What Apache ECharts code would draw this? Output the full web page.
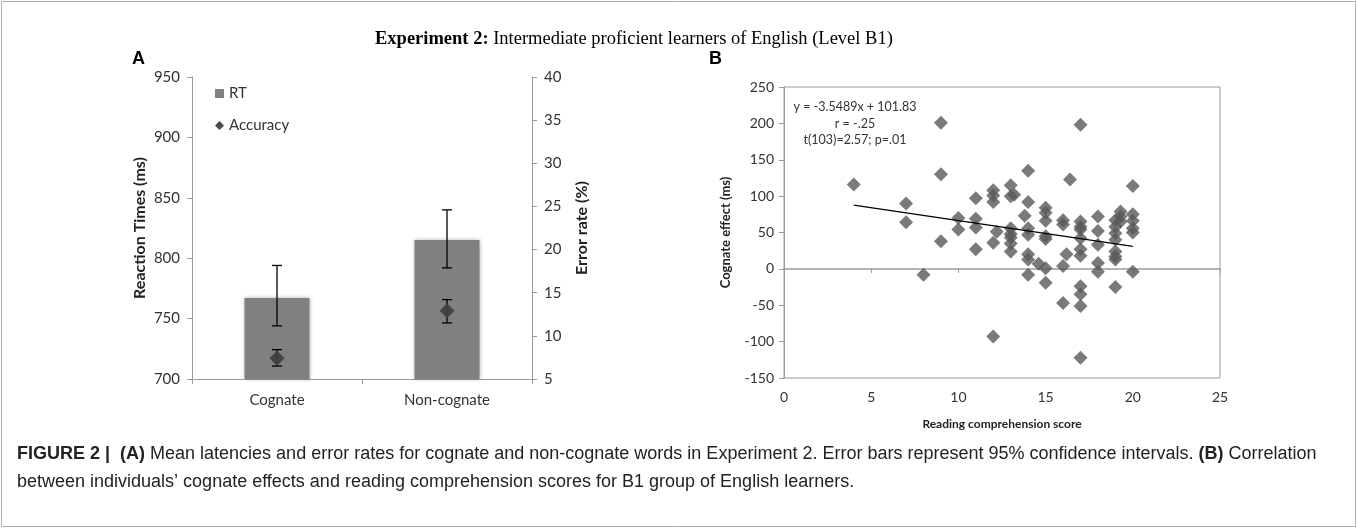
<!DOCTYPE html>
<html>
<head>
<meta charset="utf-8">
<script src="https://cdn.jsdelivr.net/npm/echarts@6/dist/echarts.min.js"></script>
<style>
  html, body { margin: 0; background: #fff; }
  #chart { width: 1358px; height: 529px; }
</style>
</head>
<body>
<div id="chart"></div>
<script>
// panel A: means and 95% CI ends
const conditions = ['Cognate', 'Non-cognate'];
const rtMean = [767, 815];
const rtLow = [744, 792];
const rtHigh = [794, 840];
const errMean = [7.4, 12.9];
const errLow = [6.5, 11.5];
const errHigh = [8.4, 14.2];

// panel B: one entry per participant
const scores = [4, 7, 7, 8, 9, 9, 9, 10, 10, 11, 11, 11, 11,
  12, 12, 12, 12.2, 12, 12, 13, 13.2, 13, 13, 13, 13, 13, 13,
  14, 14, 13.8, 14, 14, 14, 14, 14, 14.6, 15,
  15, 15, 15, 15, 15, 15, 16, 16, 16.2, 16, 16, 16.4,
  17, 17, 17, 17, 17, 17, 17, 17, 17, 17, 17,
  18, 18, 18, 18, 18, 19, 19, 19, 19, 19, 19, 19, 19, 19.3, 19.3, 19.3,
  20, 20, 20, 20, 20, 20];
const effects = [116, 90, 64, -8, 201, 130, 38, 70, 54, 97, 69, 57, 27,
  108, 101, 92, 51, 36, -93, 115, 102, 100, 56, 48, 43, 35, 24,
  135, 92, 73, 56, 47, 20, 13, -8, 7, 1,
  84, 77, 66, 45, 41, -19, 67, 61, 20, 4, -47, 123,
  198, 65, 58, 54, 42, 27, 18, -24, -35, -51, -122,
  72, 52, 33, 8, -4, 67, 58, 49, 40, 24, 17, 13, -25, 79, 72, 65,
  114, 75, 66, 56, 50, -4];
// fitted line end points
const fitX = [4, 20];
const fitY = [87.6, 30.9];

const labelFont = 'Lato, "Open Sans", sans-serif';
const captionFont = '"Liberation Sans", Arial, sans-serif';
const tickA = { color: '#333', fontFamily: labelFont, fontSize: 15 };
const tickB = { color: '#333', fontFamily: labelFont, fontSize: 14 };
const nameA = { color: '#222', fontFamily: labelFont, fontSize: 16, fontWeight: 'bold' };
const nameB = { color: '#222', fontFamily: labelFont, fontSize: 13, fontWeight: 'bold' };
const greyLine = { lineStyle: { color: '#9a9a9a', width: 1 } };

function errorBars(name, low, high, yIndex, cap) {
  return {
    name: name,
    type: 'custom',
    xAxisIndex: 0,
    yAxisIndex: yIndex,
    z: 4,
    data: low.map((l, i) => [i, l, high[i]]),
    renderItem: function (params, api) {
      const lo = api.coord([api.value(0), api.value(1)]);
      const hi = api.coord([api.value(0), api.value(2)]);
      const style = { stroke: '#000', lineWidth: 1.3 };
      return {
        type: 'group',
        children: [
          { type: 'line', shape: { x1: hi[0], y1: hi[1], x2: lo[0], y2: lo[1] }, style: style },
          { type: 'line', shape: { x1: hi[0] - cap, y1: hi[1], x2: hi[0] + cap, y2: hi[1] }, style: style },
          { type: 'line', shape: { x1: lo[0] - cap, y1: lo[1], x2: lo[0] + cap, y2: lo[1] }, style: style }
        ]
      };
    }
  };
}

const chart = echarts.init(document.getElementById('chart'), null, { renderer: 'canvas' });

const option = {
  animation: false,
  backgroundColor: '#fff',
  grid: [
    { left: 192, top: 77, width: 340, height: 302 },
    { left: 784, top: 87, width: 436, height: 291, show: true, borderColor: '#9a9a9a', borderWidth: 1 }
  ],
  legend: {
    left: 210, top: 81, orient: 'vertical', itemGap: 17,
    itemWidth: 9, itemHeight: 9,
    textStyle: { color: '#333', fontFamily: labelFont, fontSize: 15 },
    data: [{ name: 'RT', icon: 'rect' }, { name: 'Accuracy', icon: 'diamond' }]
  },
  xAxis: [
    {
      gridIndex: 0, type: 'category', data: conditions,
      axisLine: { onZero: false, lineStyle: { color: '#9a9a9a' } },
      axisTick: { show: true, length: 5, lineStyle: { color: '#9a9a9a' } },
      axisLabel: Object.assign({ margin: 14 }, tickA)
    },
    {
      gridIndex: 1, type: 'value', min: 0, max: 25, interval: 5, position: 'bottom',
      name: 'Reading comprehension score', nameLocation: 'middle', nameGap: 40,
      nameTextStyle: Object.assign({}, nameB, { fontSize: 12 }),
      axisLine: { show: false, onZero: false },
      axisTick: { show: false },
      splitLine: { show: false },
      axisLabel: Object.assign({ margin: 12 }, tickB)
    },
    {
      gridIndex: 1, type: 'value', min: 0, max: 25, interval: 5, position: 'bottom',
      axisLine: { show: true, onZero: true, lineStyle: { color: '#9a9a9a', width: 1.5 } },
      axisTick: { show: true, length: 4, lineStyle: { color: '#9a9a9a' } },
      axisLabel: { show: false },
      splitLine: { show: false }
    }
  ],
  yAxis: [
    {
      gridIndex: 0, type: 'value', min: 700, max: 950, interval: 50, position: 'left',
      name: 'Reaction Times (ms)', nameLocation: 'middle', nameGap: 44, nameRotate: 90, nameTextStyle: nameA,
      axisLine: Object.assign({ show: true }, greyLine),
      axisTick: Object.assign({ show: true, length: 5 }, greyLine),
      splitLine: { show: false },
      axisLabel: Object.assign({ margin: 12 }, tickA)
    },
    {
      gridIndex: 0, type: 'value', min: 5, max: 40, interval: 5, position: 'right',
      name: 'Error rate (%)', nameLocation: 'middle', nameGap: 42, nameRotate: 90, nameTextStyle: nameA,
      axisLine: Object.assign({ show: true }, greyLine),
      axisTick: Object.assign({ show: true, length: 5 }, greyLine),
      splitLine: { show: false },
      axisLabel: Object.assign({ margin: 12 }, tickA)
    },
    {
      gridIndex: 1, type: 'value', min: -150, max: 250, interval: 50,
      name: 'Cognate effect (ms)', nameLocation: 'middle', nameGap: 52, nameRotate: 90, nameTextStyle: nameB,
      axisLine: Object.assign({ show: true }, greyLine),
      axisTick: Object.assign({ show: true, length: 5 }, greyLine),
      splitLine: { show: false },
      axisLabel: Object.assign({ margin: 10 }, tickB)
    }
  ],
  series: [
    {
      name: 'RT', type: 'bar', xAxisIndex: 0, yAxisIndex: 0,
      barWidth: 65, data: rtMean,
      itemStyle: { color: '#808080', shadowColor: 'rgba(0,0,0,0.3)', shadowBlur: 4 }
    },
    errorBars('rtCI', rtLow, rtHigh, 0, 5),
    errorBars('errCI', errLow, errHigh, 1, 5),
    {
      name: 'Accuracy', type: 'scatter', xAxisIndex: 0, yAxisIndex: 1, z: 5,
      symbol: 'diamond', symbolSize: 15, data: errMean,
      itemStyle: { color: '#404040', opacity: 0.95 }
    },
    {
      name: 'effects', type: 'scatter', xAxisIndex: 1, yAxisIndex: 2,
      symbol: 'diamond', symbolSize: 14,
      data: scores.map((s, i) => [s, effects[i]]),
      itemStyle: { color: '#595959' }
    },
    {
      name: 'fit', type: 'line', xAxisIndex: 1, yAxisIndex: 2, z: 6,
      symbol: 'none', data: fitX.map((x, i) => [x, fitY[i]]),
      lineStyle: { color: '#000', width: 1.2 }
    }
  ],
  graphic: [
    {
      type: 'rect', shape: { x: 1.5, y: 1.5, width: 1354, height: 525 },
      style: { fill: 'none', stroke: '#b0b0b0', lineWidth: 1 }, silent: true
    },
    {
      type: 'text', left: 375, top: 30,
      style: {
        text: '{b|Experiment 2:} Intermediate proficient learners of English (Level B1)',
        font: '18.5px "Liberation Serif", serif', fill: '#000',
        rich: { b: { fontFamily: '"Liberation Serif", serif', fontSize: 18.5, fontWeight: 'bold' } }
      }
    },
    { type: 'text', left: 132, top: 50, style: { text: 'A', font: 'bold 18px "Liberation Sans", Arial, sans-serif', fill: '#000' } },
    { type: 'text', left: 709, top: 50, style: { text: 'B', font: 'bold 18px "Liberation Sans", Arial, sans-serif', fill: '#000' } },
    {
      type: 'text', x: 855, y: 99,
      style: {
        text: 'y = -3.5489x + 101.83\nr = -.25\nt(103)=2.57; p=.01',
        font: '12.5px Lato, sans-serif', fill: '#333', align: 'center', lineHeight: 16.5
      }
    },
    {
      type: 'text', left: 17, top: 445,
      style: {
        text: '{b|FIGURE 2 |}  {b|(A)} Mean latencies and error rates for cognate and non-cognate words in Experiment 2. Error bars represent 95% confidence intervals. {b|(B)} Correlation',
        font: '18px ' + captionFont, fill: '#222',
        rich: { b: { fontFamily: captionFont, fontSize: 18, fontWeight: 'bold', fill: '#222' } }
      }
    },
    {
      type: 'text', left: 17, top: 473,
      style: {
        text: 'between individuals\u2019 cognate effects and reading comprehension scores for B1 group of English learners.',
        font: '18px ' + captionFont, fill: '#222'
      }
    }
  ]
};

chart.setOption(option);
</script>
</body>
</html>
